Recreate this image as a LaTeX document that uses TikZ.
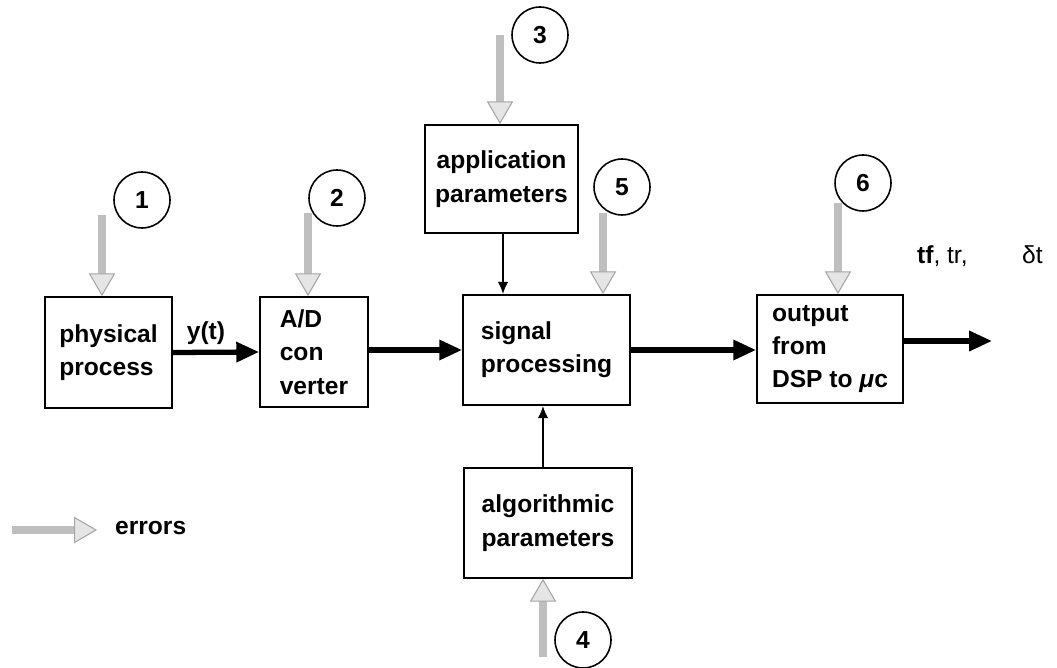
\documentclass[tikz,border=0pt]{standalone}
\usepackage{fontspec}
\setmainfont{Liberation Sans}
\usetikzlibrary{arrows.meta}
\tikzset{
  blk/.style={draw=black, line width=1pt, align=left, font=\fontsize{14}{19}\selectfont\bfseries, inner sep=2pt},
  num/.style={draw=black, circle, line width=0.9pt, minimum size=1.12cm, inner sep=0pt, font=\fontsize{14}{16}\selectfont\bfseries},
  flow/.style={line width=3pt, -{Triangle[width=11pt,length=13pt]}},
  thin/.style={line width=1pt, -{Latex[width=6pt,length=7pt]}},
  err/.style={line width=4.5pt, draw=gray!50, -{Triangle[width=15pt,length=13pt,line width=0.6pt,fill=gray!20,color=gray!70]}},
  lbl/.style={font=\fontsize{14}{16}\selectfont\bfseries, inner sep=1pt}
}
\begin{document}
\begin{tikzpicture}[x=0.02cm,y=-0.02cm]
\useasboundingbox (0,0) rectangle (1057,668);
% blocks
\node[blk, minimum width=2.54cm, minimum height=2.22cm] (pp) at (108.5,352.5) {physical\\process};
\node[blk, minimum width=2.16cm, minimum height=2.2cm] (ad) at (314,352) {A/D\\con\\verter};
\node[blk, minimum width=3.34cm, minimum height=2.2cm] (sp) at (546.5,350) {signal\\processing};
\node[blk, minimum width=3.06cm, minimum height=2.16cm, align=center] (app) at (501.5,179) {application\\parameters};
\node[blk, minimum width=3.36cm, minimum height=2.2cm, align=center] (alg) at (548,523) {algorithmic\\parameters};
\node[blk, minimum width=2.92cm, minimum height=2.16cm] (out) at (830,349) {output\\from\\DSP to \textit{μ}c};
% numbered circles
\node[num] (c1) at (142,200) {1};
\node[num] (c2) at (337,198) {2};
\node[num] (c3) at (540,35) {3};
\node[num] (c5) at (622,187) {5};
\node[num] (c6) at (863,183) {6};
\node[num] (c4) at (583,640) {4};
% free ends
\coordinate (e1) at (102,215);
\coordinate (e2) at (308,213);
\coordinate (e3) at (500,35);
\coordinate (e5) at (603,213);
\coordinate (e6) at (838,203);
\coordinate (e4) at (543,657);
\coordinate (lgs) at (12,530);
\coordinate (lge) at (97,530);
\coordinate (fin) at (992,341);
% main flow
\draw[flow] (pp.east) -- (ad.west);
\draw[flow] (ad.east |- sp.west) -- (sp.west);
\draw[flow] (sp.east) -- (sp.east -| out.west);
\draw[flow] (out.east |- fin) -- (fin);
% parameter arrows
\draw[thin] (app.south -| 503,0) -- (sp.north -| 503,0);
\draw[thin] (alg.north -| 543,0) -- (sp.south -| 543,0);
% error arrows
\draw[err] (e1) -- (e1 |- pp.north);
\draw[err] (e2) -- (e2 |- ad.north);
\draw[err] (e3) -- (e3 |- app.north);
\draw[err] (e5) -- (e5 |- sp.north);
\draw[err] (e6) -- (e6 |- out.north);
\draw[err] (e4) -- (e4 |- alg.south);
\draw[err] (lgs) -- (lge);
% labels
\node[lbl] (yt) at (206,333) {y(t)};
\node[lbl, anchor=west] (errl) at (113,528) {errors};
\node[font=\fontsize{14}{16}\selectfont, anchor=west, inner sep=1pt] (res) at (915,256) {\textbf{tf}, tr,\hspace{31pt}δt};
\end{tikzpicture}
\end{document}
